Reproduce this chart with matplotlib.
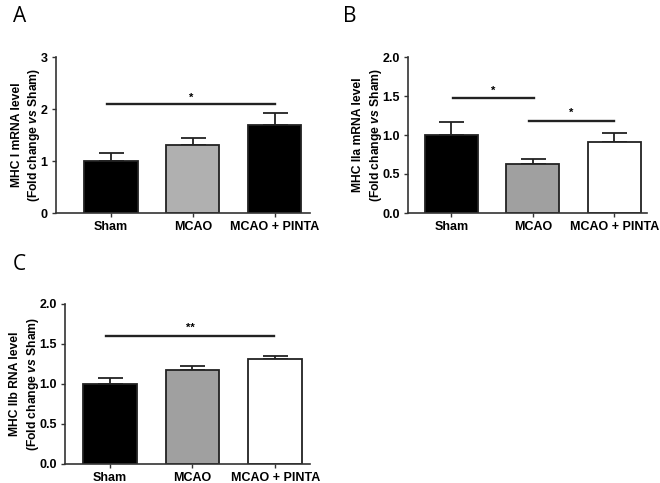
import matplotlib.pyplot as plt

plt.rcParams['font.family'] = 'Liberation Sans'
plt.rcParams['mathtext.fontset'] = 'custom'
plt.rcParams['mathtext.it'] = 'Liberation Sans:italic:bold'
plt.rcParams['mathtext.rm'] = 'Liberation Sans:bold'

# data
groups = ['Sham', 'MCAO', 'MCAO + PINTA']

mhc1_mean = [1.0, 1.30, 1.69]
mhc1_err = [0.15, 0.15, 0.23]

mhc2a_mean = [1.0, 0.63, 0.91]
mhc2a_err = [0.17, 0.06, 0.12]

mhc2b_mean = [1.0, 1.17, 1.31]
mhc2b_err = [0.07, 0.06, 0.04]


def bar_panel(ax, means, errs, colors, ylim, yticks, fmt, ylabel, xlim):
    x = range(len(means))
    ax.bar(x, means, width=0.65, color=colors, edgecolor='#222222', linewidth=1.3, zorder=2)
    for xi, m, e in zip(x, means, errs):
        ax.errorbar(xi, m, yerr=[[0], [e]], fmt='none', ecolor='#222222',
                    elinewidth=1.3, capsize=9, capthick=1.3, zorder=1)
    ax.set_ylim(*ylim)
    ax.set_xlim(*xlim)
    ax.set_yticks(yticks)
    ax.set_yticklabels([fmt.format(t) for t in yticks], fontsize=9, fontweight='bold')
    ax.set_xticks(list(x))
    ax.set_xticklabels(groups, fontsize=9, fontweight='bold')
    ax.tick_params(length=3, width=1, color='#333333', pad=3)
    for s in ['top', 'right']:
        ax.spines[s].set_visible(False)
    for s in ['left', 'bottom']:
        ax.spines[s].set_linewidth(1.2)
        ax.spines[s].set_color('#333333')
    ax.set_ylabel(ylabel, fontsize=8.7, fontweight='bold', labelpad=-1, linespacing=1.3)


def sig(ax, x0, x1, y, text, dy):
    ax.plot([x0, x1], [y, y], color='#222222', linewidth=1.7, clip_on=False)
    ax.text((x0 + x1) / 2, y + dy, text, ha='center', va='center', fontsize=8, fontweight='bold')


fig = plt.figure(figsize=(6.6, 4.83), dpi=100)

# Panel A
axA = fig.add_axes([56 / 660, 1 - 213 / 483, 254 / 660, 156 / 483])
bar_panel(axA, mhc1_mean, mhc1_err, ['black', '#b0b0b0', 'black'], (0, 3), [0, 1, 2, 3], '{:.0f}',
          'MHC I mRNA level\n(Fold change $\\mathit{vs}$ Sham)', (-0.67, 2.43))
sig(axA, -0.05, 2.0, 2.1, '*', 0.12)

# Panel B
axB = fig.add_axes([408 / 660, 1 - 213 / 483, 239 / 660, 156 / 483])
bar_panel(axB, mhc2a_mean, mhc2a_err, ['black', '#a0a0a0', 'white'], (0, 2.0), [0, 0.5, 1.0, 1.5, 2.0], '{:.1f}',
          'MHC IIa mRNA level\n(Fold change $\\mathit{vs}$ Sham)', (-0.53, 2.4))
sig(axB, 0.02, 1.02, 1.47, '*', 0.1)
sig(axB, 0.95, 2.0, 1.18, '*', 0.1)

# Panel C
axC = fig.add_axes([65 / 660, 1 - 464 / 483, 245 / 660, 160 / 483])
bar_panel(axC, mhc2b_mean, mhc2b_err, ['black', '#a0a0a0', 'white'], (0, 2.0), [0, 0.5, 1.0, 1.5, 2.0], '{:.1f}',
          'MHC IIb RNA level\n(Fold change $\\mathit{vs}$ Sham)', (-0.54, 2.42))
sig(axC, -0.04, 1.99, 1.6, '**', 0.1)

fig.text(13 / 660, 1 - 6 / 483, 'A', fontsize=15, va='top', ha='left', family='Open Sans')
fig.text(343 / 660, 1 - 6 / 483, 'B', fontsize=15, va='top', ha='left', family='Open Sans')
fig.text(13 / 660, 1 - 254 / 483, 'C', fontsize=15, va='top', ha='left', family='Open Sans')

fig.savefig('out.png', dpi=100, facecolor='white')
